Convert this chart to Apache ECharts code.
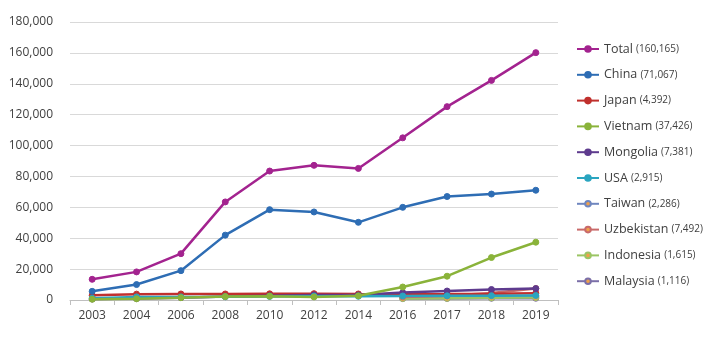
<!DOCTYPE html>
<html><head><meta charset="utf-8">
<script src="https://cdn.jsdelivr.net/npm/echarts@6/dist/echarts.min.js"></script>
<style>html,body{margin:0;padding:0;background:#fff}#c{width:708px;height:338px}</style>
</head><body><div id="c"></div>
<script>
const years = ['2003','2004','2006','2008','2010','2012','2014','2016','2017','2018','2019'];
const total = [13400,18200,30000,63500,83500,87200,85200,105000,125200,142200,160165];
const china = [5600,10000,19000,42000,58500,57000,50300,60000,67000,68600,71067];
const japan = [3000,3800,3900,3900,4000,4100,3900,3800,3900,4100,4392];
const vietnam = [500,800,1500,2200,2500,2000,2700,8400,15400,27500,37426];
const mongolia = [600,900,1500,2300,2800,3300,3200,4800,5800,6800,7381];
const usa = [1200,2000,2000,2100,2300,2500,2400,2600,2700,2800,2915];
const taiwan = [null,null,null,null,null,null,null,1500,1800,2000,2286];
const uzbekistan = [null,null,null,null,null,null,null,2000,2700,4500,7492];
const indonesia = [null,null,null,null,null,null,null,1000,1100,1400,1615];
const malaysia = [null,null,null,null,null,null,null,900,1000,1100,1116];
const names = ['Total','China','Japan','Vietnam','Mongolia','USA','Taiwan','Uzbekistan','Indonesia','Malaysia'];
const latest = ['160,165','71,067','4,392','37,426','7,381','2,915','2,286','7,492','1,615','1,116'];
const yTicks = [0,20000,40000,60000,80000,100000,120000,140000,160000,180000];

const dataSets = [total,china,japan,vietnam,mongolia,usa,taiwan,uzbekistan,indonesia,malaysia];
const lineColors = ['#A3238F','#2E6DB4','#C0302D','#8AB33A','#5E3B8E','#2AA5C0','#6F86BF','#C96A6A','#9BC564','#7B6FA8'];
const markColors = ['#A3238F','#2E6DB4','#C0302D','#8AB33A','#5E3B8E','#2AA5C0','#F0A04B','#F0A04B','#F0A04B','#F0A04B'];
const z = [10,9,5,8,6,7,2,4,3,1];

const series = names.map((n,i)=>({
  name:n, type:'line', data:dataSets[i], z:z[i],
  symbol:'circle', symbolSize:6, showSymbol:true,
  lineStyle:{color:lineColors[i], width:2.5},
  itemStyle:{color:markColors[i], borderColor:lineColors[i], borderWidth:1},
  connectNulls:false
}));

const chart = echarts.init(document.getElementById('c'));
chart.setOption({
  animation:false,
  textStyle:{fontFamily:'"Open Sans", "Noto Sans", sans-serif'},
  grid:{left:70,right:150,top:22,bottom:38},
  xAxis:{type:'category',data:years,boundaryGap:true,
    axisLine:{lineStyle:{color:'#bfbfbf'}},
    axisTick:{show:true,length:5,lineStyle:{color:'#bfbfbf'},alignWithLabel:false},
    axisLabel:{color:'#404040',fontSize:12,margin:10}},
  yAxis:{type:'value',min:0,max:180000,interval:20000,
    axisLine:{show:false},axisTick:{show:false},
    splitLine:{lineStyle:{color:'#d9d9d9'}},
    axisLabel:{color:'#404040',fontSize:12,margin:17,
      formatter:v=>v.toLocaleString('en-US')}},
  legend:{orient:'vertical',left:576,top:42,padding:0,itemWidth:22,itemHeight:7,itemGap:11.8,
    data:names,
    formatter:n=>'{a|'+n+'} {b|('+latest[names.indexOf(n)]+')}',
    textStyle:{color:'#404040',lineHeight:14,rich:{a:{fontSize:12.5,color:'#404040',lineHeight:14},b:{fontSize:10,color:'#404040',lineHeight:14}}}},
  series:series
});
</script></body></html>
